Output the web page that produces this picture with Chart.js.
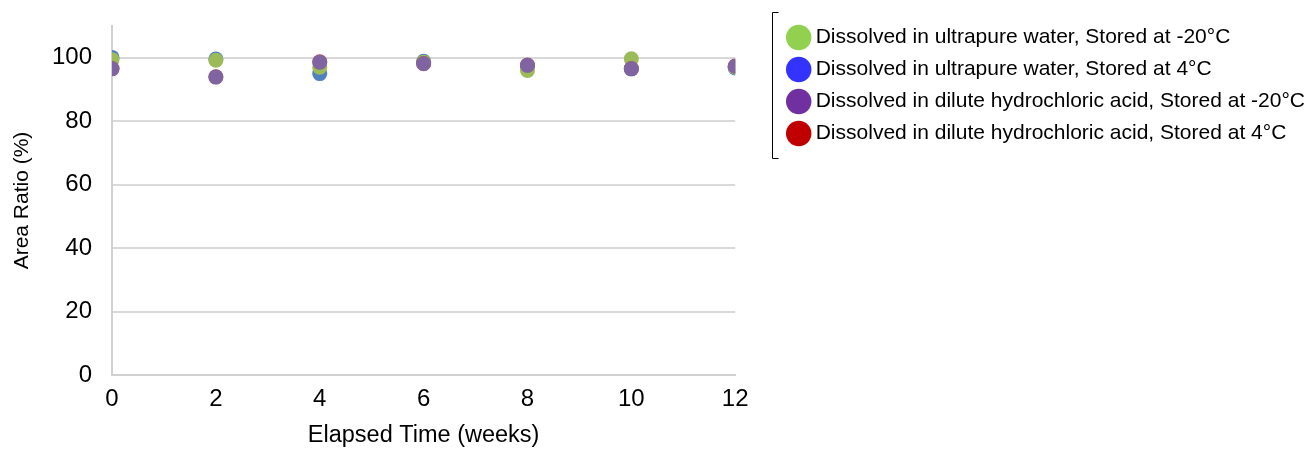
<!DOCTYPE html>
<html>
<head>
<meta charset="utf-8">
<script src="https://cdn.jsdelivr.net/npm/chart.js@4.4.1/dist/chart.umd.min.js"></script>
<style>
	html, body { margin: 0; padding: 0; background: #fff; }
	#wrap { width: 1315px; height: 450px; }
</style>
</head>
<body>
<div id="wrap"><canvas id="myChart"></canvas></div>
<script>
// weeks elapsed
const semanas = [0, 2, 4, 6, 8, 10, 12];
// area ratio (%) per series
const aguaMenos20 = [99.4, 99.2, 97.0, 98.6, 96.0, 99.7, 97.0];
const agua4 = [100.1, 99.6, 95.0, 98.9, 97.5, 96.5, 96.8];
const hclMenos20 = [96.5, 93.9, 98.6, 98.1, 97.6, 96.5, 97.3];
const hcl4 = [96.6, 94.0, 98.7, 98.2, 97.7, 96.6, 97.4];

const etiquetas = [
	'Dissolved in ultrapure water, Stored at -20\u00B0C',
	'Dissolved in ultrapure water, Stored at 4\u00B0C',
	'Dissolved in dilute hydrochloric acid, Stored at -20\u00B0C',
	'Dissolved in dilute hydrochloric acid, Stored at 4\u00B0C'
];
const yTicks = [0, 20, 40, 60, 80, 100];
const xTicks = [0, 2, 4, 6, 8, 10, 12];

const coloresPuntos = ['#9bbb59', '#4f81bd', '#8064a2', '#c0504d'];
const coloresLeyenda = ['#92d050', '#3333ff', '#7030a0', '#c00000'];
const orden = [2, 3, 0, 1]; // purple drawn on top

const FUENTE = "'Liberation Sans', Arial, sans-serif";

function puntos(valores) {
	return semanas.map((s, i) => ({ x: s, y: valores[i] }));
}

// bracket on the left side of the legend
const corchete = {
	id: 'corchete',
	afterDraw(chart) {
		const lg = chart.legend;
		if (!lg) return;
		const ctx = chart.ctx;
		const x = Math.round(lg.left - 9) + 0.5;
		const top = Math.round(lg.top - 4) + 0.5;
		const bottom = top + 146;
		ctx.save();
		ctx.strokeStyle = '#000';
		ctx.lineWidth = 1;
		ctx.beginPath();
		ctx.moveTo(x + 6, top);
		ctx.lineTo(x, top);
		ctx.lineTo(x, bottom);
		ctx.lineTo(x + 6, bottom);
		ctx.stroke();
		ctx.restore();
	}
};

function iniciar() {
	const series = [aguaMenos20, agua4, hclMenos20, hcl4];
	const ctx = document.getElementById('myChart').getContext('2d');
	new Chart(ctx, {
		type: 'scatter',
		data: {
			datasets: series.map((v, i) => ({
				label: etiquetas[i],
				data: puntos(v),
				backgroundColor: coloresPuntos[i],
				borderWidth: 0,
				pointRadius: 7.5,
				pointHoverRadius: 7.5,
				order: orden[i]
			}))
		},
		options: {
			responsive: true,
			maintainAspectRatio: false,
			animation: false,
			layout: { padding: { top: 16, left: 10, right: 0, bottom: 0 } },
			plugins: {
				tooltip: { enabled: false },
				legend: {
					position: 'right',
					align: 'start',
					maxWidth: 620,
					labels: {
						usePointStyle: true,
						pointStyle: 'circle',
						boxHeight: 18,
						boxWidth: 13,
						padding: 11,
						color: '#000',
						font: { family: FUENTE, size: 21 },
						generateLabels(chart) {
							return chart.data.datasets.map((d, i) => ({
								text: d.label,
								fillStyle: coloresLeyenda[i],
								strokeStyle: coloresLeyenda[i],
								lineWidth: 0,
								pointStyle: 'circle',
								datasetIndex: i,
								hidden: false
							}));
						}
					}
				}
			},
			scales: {
				x: {
					type: 'linear',
					min: 0,
					max: 12,
					afterBuildTicks: (s) => { s.ticks = xTicks.map(v => ({ value: v })); },
					afterFit: (s) => { s.height = 75; },
					grid: { display: false },
					border: { display: true, color: '#d0d0d0', width: 2 },
					ticks: { color: '#000', padding: 2, font: { family: FUENTE, size: 24 } },
					title: {
						display: true,
						text: 'Elapsed Time (weeks)',
						color: '#000',
						padding: { top: 8, bottom: 0 },
						font: { family: FUENTE, size: 23.5 }
					}
				},
				y: {
					type: 'linear',
					min: 0,
					max: 110,
					afterBuildTicks: (s) => { s.ticks = yTicks.map(v => ({ value: v })); },
					afterFit: (s) => { s.width = 102; s.paddingTop = 26; },
					grid: { color: '#d9d9d9', lineWidth: 2, drawTicks: false },
					border: { display: true, color: '#d0d0d0', width: 2 },
					ticks: { color: '#000', padding: 20, font: { family: FUENTE, size: 24 } },
					title: {
						display: true,
						text: 'Area Ratio (%)',
						color: '#000',
						padding: 0,
						font: { family: FUENTE, size: 21 }
					}
				},
				// empty axis that only keeps the gap between plot and legend
				hueco: {
					type: 'linear',
					position: 'right',
					display: true,
					grid: { display: false },
					border: { display: false },
					ticks: { display: false },
					afterFit: (s) => { s.width = 46; }
				}
			}
		},
		plugins: [corchete]
	});
}

window.addEventListener('load', iniciar);
</script>
</body>
</html>
